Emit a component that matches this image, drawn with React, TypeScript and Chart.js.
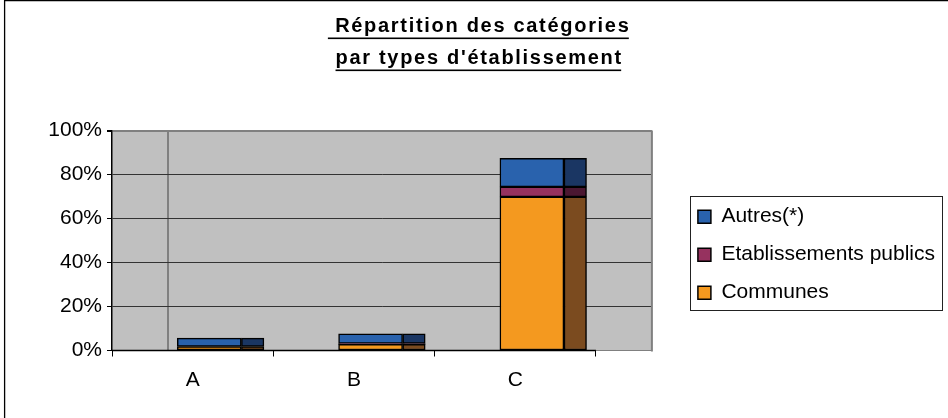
import { useEffect, useRef } from 'react';
import { Chart, registerables } from 'chart.js';

Chart.register(...registerables);

// ---- data ----
const CATEGORIES = ['A', 'B', 'C'];
const SERIES_NAMES = ['Communes', 'Etablissements publics', 'Autres(*)'];
const COMMUNES = [1.8, 2.8, 69.8];
const ETABLISSEMENTS_PUBLICS = [0, 0.4, 4.6];
const AUTRES = [3.8, 4.4, 12.9];
const Y_TICKS = [0, 20, 40, 60, 80, 100];
const TITLE_LINES = [' Répartition des catégories', "par types d'établissement"];

// ---- styles ----
const FONT = '"Liberation Sans", Arial, sans-serif';
const FRONT_COLORS = ['#f4991f', '#96325f', '#2962ad'];
const SIDE_COLORS = ['#7b4b1f', '#4b1731', '#1a3663'];
const DEPTH = 0.347; // 3D depth, in category units
const FRONT_SHIFT = 0.103;
const SIDE_SHIFT = 0.372;
const FRONT_THICKNESS = 64;
const SIDE_THICKNESS = 22.5;
const TITLE_CX = 479.2;
const TITLE_SPACING = 1.7;

const decor = {
  id: 'decor',
  beforeDraw(chart: any) {
    const { ctx, chartArea: a } = chart;
    const xs = chart.scales.x;
    ctx.save();
    ctx.fillStyle = '#c0c0c0';
    ctx.fillRect(a.left, a.top, a.right - a.left, a.bottom - a.top);
    const bx = xs.getPixelForValue(-0.5 + DEPTH);
    ctx.strokeStyle = '#808080';
    ctx.lineWidth = 2;
    ctx.beginPath();
    ctx.moveTo(bx, a.top);
    ctx.lineTo(bx, a.bottom);
    ctx.stroke();
    ctx.restore();
  },
  beforeDatasetsDraw(chart: any) {
    const { ctx, chartArea: a } = chart;
    const xs = chart.scales.x;
    ctx.save();
    ctx.strokeStyle = '#808080';
    ctx.lineWidth = 2;
    ctx.beginPath();
    ctx.moveTo(a.right, a.top);
    ctx.lineTo(a.right, a.bottom + 1);
    ctx.stroke();
    ctx.strokeStyle = '#000';
    ctx.lineWidth = 1.5;
    ctx.beginPath();
    ctx.moveTo(a.left, a.bottom);
    ctx.lineTo(xs.getPixelForValue(CATEGORIES.length - 0.5), a.bottom);
    ctx.stroke();
    ctx.restore();
  },
  afterDraw(chart: any) {
    const { ctx } = chart;
    ctx.save();
    // outer frame
    ctx.strokeStyle = '#000';
    ctx.lineWidth = 1.3;
    ctx.beginPath();
    ctx.moveTo(4.6, chart.height + 2);
    ctx.lineTo(4.6, 0.6);
    ctx.lineTo(chart.width + 2, 0.6);
    ctx.stroke();

    // legend border
    const lg = chart.legend;
    const hb = lg && lg.legendHitBoxes;
    if (hb && hb.length) {
      const left = Math.min(...hb.map((h: any) => h.left)) - 8;
      const top = Math.min(...hb.map((h: any) => h.top)) - 10;
      const right = Math.max(...hb.map((h: any) => h.left + h.width)) + 7;
      const bottom = Math.max(...hb.map((h: any) => h.top + h.height)) + 7;
      ctx.strokeStyle = '#222';
      ctx.lineWidth = 1;
      ctx.strokeRect(Math.round(left) + 0.5, Math.round(top) + 0.5, Math.round(right - left), Math.round(bottom - top));
    }

    // title
    ctx.font = `bold 20px ${FONT}`;
    (ctx as any).letterSpacing = TITLE_SPACING + 'px';
    ctx.fillStyle = '#000';
    ctx.textAlign = 'left';
    ctx.textBaseline = 'alphabetic';
    TITLE_LINES.forEach((t, i) => {
      const w = ctx.measureText(t).width;
      const x0 = TITLE_CX - w / 2;
      const base = 31.5 + i * 32;
      ctx.fillText(t, x0, base);
      ctx.fillRect(x0, base + 6, w - TITLE_SPACING, 1.6);
    });
    ctx.restore();
  },
};

export default function App() {
  const ref = useRef<HTMLCanvasElement | null>(null);

  useEffect(() => {
    document.body.style.margin = '0';
    const canvas = ref.current;
    if (!canvas) return;
    const series = [COMMUNES, ETABLISSEMENTS_PUBLICS, AUTRES];
    const datasets: any[] = [];
    series.forEach((vals, s) => {
      datasets.push({
        label: SERIES_NAMES[s],
        data: vals.map((v, i) => ({ x: i + FRONT_SHIFT, y: v })),
        backgroundColor: FRONT_COLORS[s],
        borderColor: '#000',
        borderWidth: 1.5,
        borderSkipped: false,
        barThickness: FRONT_THICKNESS,
        grouped: false,
        stack: 'front',
      });
    });
    series.forEach((vals, s) => {
      datasets.push({
        label: SERIES_NAMES[s] + ' (side)',
        data: vals.map((v, i) => ({ x: i + SIDE_SHIFT, y: v })),
        backgroundColor: SIDE_COLORS[s],
        borderColor: '#000',
        borderWidth: 1.5,
        borderSkipped: false,
        barThickness: SIDE_THICKNESS,
        grouped: false,
        stack: 'side',
      });
    });

    const chart = new Chart(canvas, {
      type: 'bar',
      data: { datasets },
      plugins: [decor],
      options: {
        animation: false,
        responsive: false,
        devicePixelRatio: 1,
        layout: { padding: { top: 130.5, right: 3, bottom: 17.5, left: 0 } },
        scales: {
          x: {
            type: 'linear',
            offset: false,
            min: -0.5,
            max: CATEGORIES.length - 0.5 + DEPTH,
            afterBuildTicks: (axis: any) => {
              const t: any[] = [];
              for (let i = 0; i < CATEGORIES.length; i++) {
                t.push({ value: i - 0.5 });
                t.push({ value: i });
              }
              t.push({ value: CATEGORIES.length - 0.5 });
              axis.ticks = t;
            },
            afterFit: (axis: any) => {
              axis.height = 50;
            },
            ticks: {
              autoSkip: false,
              maxRotation: 0,
              padding: 11.5,
              color: '#000',
              font: { family: FONT, size: 21 },
              callback: (v: any) => (Number.isInteger(v) ? CATEGORIES[v] : ''),
            },
            grid: {
              offset: false,
              drawOnChartArea: false,
              drawTicks: true,
              tickLength: 6,
              tickWidth: 1,
              tickColor: (c: any) => (Number.isInteger(c.tick?.value) ? 'rgba(0,0,0,0)' : '#000'),
            },
            border: { display: false },
          },
          y: {
            type: 'linear',
            stacked: true,
            min: 0,
            max: 100,
            afterBuildTicks: (axis: any) => {
              axis.ticks = Y_TICKS.map((v) => ({ value: v }));
            },
            afterFit: (axis: any) => {
              axis.width = 112;
            },
            ticks: {
              padding: 5,
              color: '#000',
              font: { family: FONT, size: 21 },
              callback: (v: any) => v + '%',
            },
            grid: {
              color: (c: any) => {
                const v = c.tick?.value;
                if (v === 100 || v === 0) return '#808080';
                return '#333';
              },
              lineWidth: (c: any) => (c.tick?.value === 100 ? 2 : 1),
              tickLength: 5,
              tickColor: '#000',
            },
            border: { display: true, color: '#000', width: 1.5 },
          },
          yr: {
            type: 'linear',
            position: 'right',
            display: true,
            grid: { display: false },
            ticks: { display: false },
            border: { display: false },
            afterFit: (axis: any) => {
              axis.width = 29;
            },
          },
        },
        plugins: {
          title: { display: false },
          tooltip: { enabled: false },
          legend: {
            display: true,
            position: 'right',
            fullSize: false,
            maxWidth: 320,
            reverse: true,
            title: {
              display: true,
              text: '',
              font: { size: 10, lineHeight: 1 },
              padding: { top: 18.4, bottom: 0 },
            },
            labels: {
              boxWidth: 13,
              boxHeight: 13,
              padding: 17,
              color: '#000',
              font: { family: FONT, size: 21 },
              filter: (item: any) => item.datasetIndex < SERIES_NAMES.length,
            },
          },
        },
      },
    } as any);
    return () => chart.destroy();
  }, []);

  return (
    <div style={{ width: 948, height: 418 }}>
      <canvas ref={ref} width={948} height={418} style={{ display: 'block' }} />
    </div>
  );
}
